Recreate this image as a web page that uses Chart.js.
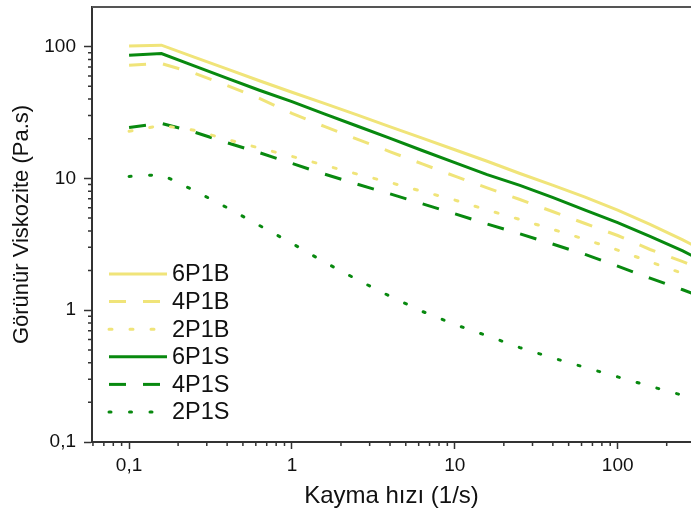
<!DOCTYPE html>
<html>
<head>
<meta charset="utf-8">
<script src="https://cdn.jsdelivr.net/npm/chart.js@4.4.1/dist/chart.umd.min.js"></script>
<style>
  html, body { margin: 0; padding: 0; background: #fff; overflow: hidden; }
  canvas { display: block; }
</style>
</head>
<body>
<canvas id="chart" width="691" height="514"></canvas>
<script>
// shear rate (1/s), 5 points per decade
const shearRate = [0.1, 0.158, 0.251, 0.398, 0.631, 1, 1.58, 2.51, 3.98, 6.31, 10, 15.8, 25.1, 39.8, 63.1, 100, 158, 251, 398];

// apparent viscosity (Pa.s)
const v6P1B = [101, 102.6, 83.4, 67.8, 55.1, 45.1, 37.1, 30.4, 24.7, 20.2, 16.5, 13.5, 10.9, 8.89, 7.21, 5.74, 4.49, 3.42, 2.55];
const v4P1B = [72.3, 74.5, 62.9, 50.9, 40.5, 31.2, 24.8, 19.9, 16.0, 12.9, 10.4, 8.47, 6.92, 5.61, 4.55, 3.69, 2.89, 2.34, 1.86];
const v2P1B = [22.8, 25.3, 23.2, 19.8, 17.0, 14.7, 12.6, 10.8, 9.33, 7.98, 6.86, 5.77, 4.88, 4.11, 3.45, 2.86, 2.33, 1.90, 1.53];
const v6P1S = [86.1, 88.7, 71.6, 57.7, 46.7, 38.3, 30.9, 25.0, 20.2, 16.3, 13.2, 10.7, 8.85, 7.18, 5.75, 4.62, 3.64, 2.82, 2.10];
const v4P1S = [24.4, 26.2, 22.5, 18.7, 15.7, 13.0, 10.8, 9.06, 7.65, 6.43, 5.39, 4.51, 3.80, 3.18, 2.65, 2.16, 1.75, 1.43, 1.16];
const v2P1S = [10.35, 10.7, 8.1, 6.02, 4.40, 3.22, 2.32, 1.71, 1.28, 0.98, 0.78, 0.64, 0.52, 0.435, 0.368, 0.312, 0.265, 0.226, 0.19];

const seriesNames = ['6P1B', '4P1B', '2P1B', '6P1S', '4P1S', '2P1S'];
const seriesValues = [v6P1B, v4P1B, v2P1B, v6P1S, v4P1S, v2P1S];

const xTicks = [0.1, 1, 10, 100];
const yTicks = [0.1, 1, 10, 100];

const yellow = '#f0e479';
const green = '#08890f';
const colors = [yellow, yellow, yellow, green, green, green];
const dashes = [[], [17, 17], [3, 18], [], [17, 17], [2, 18.5]];
const caps = ['butt', 'butt', 'round', 'butt', 'butt', 'round'];
const fontFamily = '"Liberation Sans", Arial, sans-serif';

const datasets = seriesNames.map((name, i) => ({
  label: name,
  data: shearRate.map((x, j) => ({ x: x, y: seriesValues[i][j] })),
  borderColor: colors[i],
  backgroundColor: colors[i],
  borderDash: dashes[i],
  borderCapStyle: caps[i],
  borderWidth: 3,
  pointRadius: 0,
  tension: 0,
  fill: false
}));

function minorValues(min, max) {
  const out = [];
  for (let e = -3; e <= 4; e++) {
    for (let m = 2; m <= 9; m++) {
      const v = m * Math.pow(10, e);
      if (v > min && v < max) out.push(v);
    }
  }
  return out;
}

// short minor ticks, the top frame line and the legend inside the plot
const extras = {
  id: 'extras',
  afterDraw(chart) {
    const ctx = chart.ctx;
    const area = chart.chartArea;
    const xs = chart.scales.x;
    const ys = chart.scales.y;
    ctx.save();
    ctx.strokeStyle = '#333';
    ctx.lineWidth = 1.5;
    ctx.beginPath();
    minorValues(xs.min, xs.max).forEach(v => {
      const px = xs.getPixelForValue(v);
      ctx.moveTo(px, area.bottom);
      ctx.lineTo(px, area.bottom + 4);
    });
    minorValues(ys.min, ys.max).forEach(v => {
      const py = ys.getPixelForValue(v);
      ctx.moveTo(area.left, py);
      ctx.lineTo(area.left - 4, py);
    });
    ctx.stroke();

    ctx.strokeStyle = '#555';
    ctx.lineWidth = 2;
    ctx.beginPath();
    ctx.moveTo(area.left, area.top);
    ctx.lineTo(chart.width, area.top);
    ctx.stroke();

    chart.data.datasets.forEach((ds, i) => {
      const y = area.bottom - 168 + i * 27.6;
      ctx.strokeStyle = ds.borderColor;
      ctx.lineWidth = ds.borderWidth;
      ctx.lineCap = ds.borderCapStyle;
      ctx.setLineDash(ds.borderDash);
      ctx.beginPath();
      ctx.moveTo(area.left + 17, y);
      ctx.lineTo(area.left + 75, y);
      ctx.stroke();
      ctx.setLineDash([]);
      ctx.fillStyle = '#111';
      ctx.font = '23.5px ' + fontFamily;
      ctx.textBaseline = 'middle';
      ctx.textAlign = 'left';
      ctx.fillText(ds.label, area.left + 80, y + 1);
    });
    ctx.restore();
  }
};

const tickLabel = v => String(v).replace('.', ',');

new Chart(document.getElementById('chart'), {
  type: 'line',
  data: { datasets: datasets },
  options: {
    responsive: false,
    animation: false,
    layout: { padding: { top: 7, right: 0, bottom: 0, left: 0 } },
    plugins: {
      legend: { display: false },
      tooltip: { enabled: false }
    },
    scales: {
      x: {
        type: 'logarithmic',
        position: 'bottom',
        min: 0.0592,
        max: 282,
        afterBuildTicks: s => { s.ticks = xTicks.map(v => ({ value: v })); },
        afterFit: s => { s.height = 72; s.paddingLeft = 0; s.paddingRight = 0; },
        border: { color: '#333', width: 2 },
        grid: { drawOnChartArea: false, tickLength: 7, tickColor: '#333', tickWidth: 1.5 },
        ticks: {
          autoSkip: false,
          maxRotation: 0,
          padding: 5,
          color: '#111',
          font: { family: fontFamily, size: 19 },
          callback: tickLabel
        },
        title: {
          display: true,
          text: 'Kayma hızı (1/s)',
          color: '#111',
          font: { family: fontFamily, size: 24 },
          padding: { top: 0, bottom: 3 }
        }
      },
      y: {
        type: 'logarithmic',
        min: 0.1,
        max: 200,
        afterBuildTicks: s => { s.ticks = yTicks.map(v => ({ value: v })); },
        afterFit: s => { s.width = 92; s.paddingTop = 0; s.paddingBottom = 0; },
        border: { color: '#333', width: 2 },
        grid: { drawOnChartArea: false, tickLength: 8, tickColor: '#333', tickWidth: 1.5 },
        ticks: {
          autoSkip: false,
          padding: 8,
          color: '#111',
          font: { family: fontFamily, size: 19 },
          callback: tickLabel
        },
        title: {
          display: true,
          text: 'Görünür Viskozite (Pa.s)',
          color: '#111',
          font: { family: fontFamily, size: 22 },
          padding: { top: 9, bottom: 0 }
        }
      }
    }
  },
  plugins: [extras]
});
</script>
</body>
</html>
